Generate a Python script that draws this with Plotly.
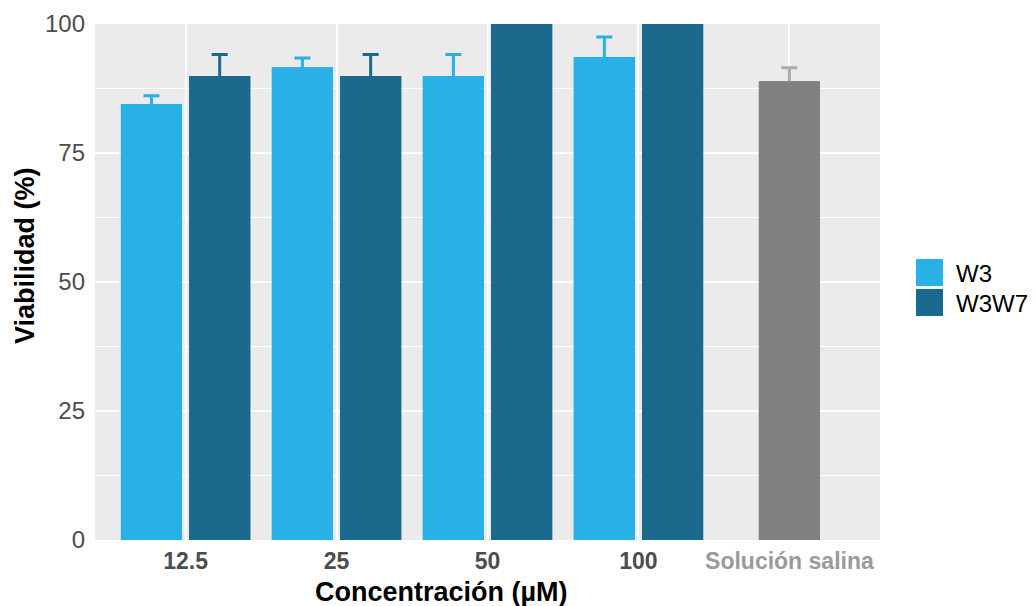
import plotly.graph_objects as go

# ---- data ----
categories = ["12.5", "25", "50", "100", "Solución salina"]
w3_values = [84.5, 91.6, 89.9, 93.6]
w3_sd = [1.6, 1.8, 4.2, 3.9]
w3w7_values = [89.9, 89.9, 104.0, 104.0]
w3w7_sd = [4.2, 4.2, 3.0, 3.0]
saline_value = [88.9]
saline_sd = [2.6]
series_names = ["W3", "W3W7"]
y_ticks = [0, 25, 50, 75, 100]
x_title = "Concentración (µM)"
y_title = "Viabilidad (%)"

# ---- style ----
C_W3 = "#29B0E5"
C_W3W7 = "#1B6A8E"
C_SAL = "#808080"
C_SAL_ERR = "#ABABAB"
PANEL = "#EBEBEB"
FONT = "Liberation Sans, Arial, sans-serif"
OFF = 0.226
BW = 0.405

# panel geometry in page pixels (used to place titles/legend in paper coords)
PX0, PX1, PY0, PY1 = 95, 880, 24, 540


def px(x):
    return (x - PX0) / (PX1 - PX0)


def py(y):
    return 1 - (y - PY0) / (PY1 - PY0)


n = len(w3_values)
idx = list(range(n))
sal_x = [len(categories) - 1]

groups = [
    ([i - OFF for i in idx], w3_values, w3_sd, C_W3, C_W3, series_names[0]),
    ([i + OFF for i in idx], w3w7_values, w3w7_sd, C_W3W7, C_W3W7, series_names[1]),
    (sal_x, saline_value, saline_sd, C_SAL, C_SAL_ERR, categories[-1]),
]

fig = go.Figure()

# error bars first (symmetric; lower half is hidden by the bars drawn afterwards)
for xs, ys, sd, col, ecol, name in groups:
    fig.add_trace(go.Bar(
        x=xs, y=ys, width=BW, name=name,
        marker=dict(color=col, line=dict(width=0)),
        error_y=dict(type="data", array=sd, symmetric=True,
                     color=ecol, thickness=3, width=8),
        showlegend=False, hoverinfo="skip",
    ))
# bars on top
for xs, ys, sd, col, ecol, name in groups:
    fig.add_trace(go.Bar(
        x=xs, y=ys, width=BW, name=name,
        marker=dict(color=col, line=dict(width=0)),
        showlegend=False,
    ))

ticktext = [f"{c}" for c in categories[:-1]] + [
    f"<span style='color:#9A9A9A'>{categories[-1]}</span>"]

fig.update_layout(
    width=1028, height=598,
    margin=dict(l=87, r=156, t=16, b=66, autoexpand=False),
    paper_bgcolor="white", plot_bgcolor=PANEL,
    barmode="overlay",
    font=dict(family=FONT, color="#000000"),
    xaxis=dict(
        range=[-0.6, len(categories) - 1 + 0.6],
        automargin=False,
        tickmode="array", tickvals=list(range(len(categories))), ticktext=ticktext,
        tickfont=dict(size=23, color="#4D4D4D", weight="bold", family=FONT),
        ticklabelstandoff=5,
        showgrid=True, gridcolor="white", gridwidth=2,
        zeroline=False, showline=False, ticks="",
    ),
    yaxis=dict(
        range=[0, 100],
        automargin=False,
        tickmode="array", tickvals=y_ticks,
        tickfont=dict(size=24, color="#4D4D4D", family=FONT),
        ticklabelstandoff=9,
        showgrid=True, gridcolor="white", gridwidth=2,
        minor=dict(dtick=12.5, tick0=0, showgrid=True, gridcolor="white", gridwidth=1),
        zeroline=False, showline=False, ticks="",
    ),
)

# axis titles (placed as in the reference)
fig.add_annotation(xref="paper", yref="paper", x=px(441), y=py(592),
                   text=f"<b>{x_title}</b>", showarrow=False,
                   xanchor="center", yanchor="middle",
                   font=dict(size=27, color="#000000", family=FONT))
fig.add_annotation(xref="paper", yref="paper", x=px(25), y=py(256),
                   text=f"<b>{y_title}</b>", showarrow=False, textangle=-90,
                   xanchor="center", yanchor="middle",
                   font=dict(size=27, color="#000000", family=FONT))

# custom legend keys (large squares like the reference)
legend_colors = [C_W3, C_W3W7]
for k, (name, col) in enumerate(zip(series_names, legend_colors)):
    y0 = 259 + k * 30
    fig.add_shape(type="rect", xref="paper", yref="paper",
                  x0=px(916), x1=px(943), y0=py(y0 + 27), y1=py(y0),
                  fillcolor=col, line=dict(width=0))
    fig.add_annotation(xref="paper", yref="paper",
                       x=px(954), y=py(y0 + 14),
                       text=name, showarrow=False, xanchor="left", yanchor="middle",
                       font=dict(size=24, color="#000000", family=FONT))

fig.write_html("out.html")
